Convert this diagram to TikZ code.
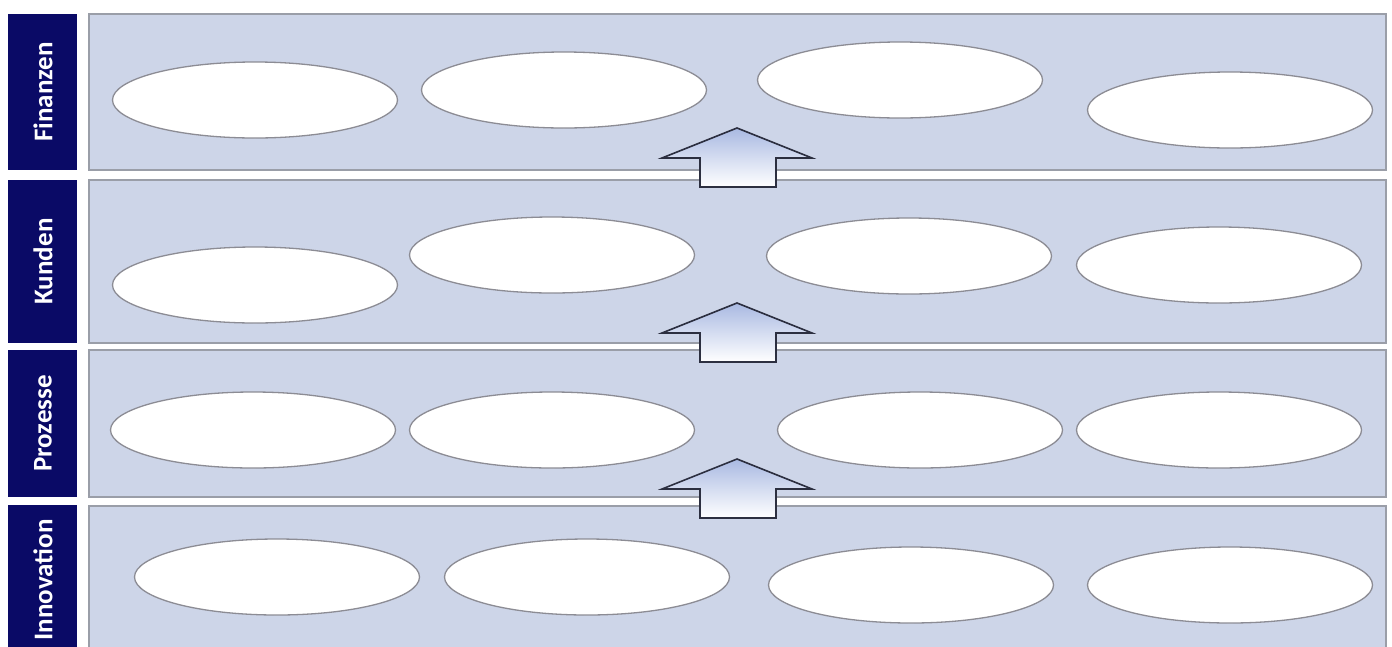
\documentclass[tikz,border=0pt]{standalone}
\usepackage{fontspec}
\setmainfont{Carlito}
\usetikzlibrary{shapes.geometric}
\definecolor{navy}{HTML}{0A0A66}
\definecolor{panelfill}{HTML}{CDD5E8}
\definecolor{panelline}{HTML}{9A9EA8}
\definecolor{ellline}{HTML}{8C8C94}
\definecolor{arrowtop}{HTML}{A9B9E2}
\definecolor{arrowline}{HTML}{2C2F40}
\tikzset{
  lbl/.style={draw=none,fill=navy,text=white,font=\bfseries\fontsize{27}{27}\selectfont,rotate=90,inner sep=0pt},
  panel/.style={draw=panelline,line width=1.2pt,fill=panelfill},
  oval/.style={ellipse,draw=ellline,line width=1.3pt,fill=white,minimum width=285pt,minimum height=76pt,inner sep=0pt},
  uparrow/.style={draw=arrowline,line width=1.6pt,top color=arrowtop,bottom color=white,line join=miter}
}
\begin{document}
\begin{tikzpicture}[x=1pt,y=-1pt]
\useasboundingbox (0,0) rectangle (1392,646);
\fill[white] (0,0) rectangle (1392,646);
\begin{scope}
\clip (0,0) rectangle (1392,646);
% label boxes
\fill[navy] (8,14) rectangle (77,170);
\fill[navy] (8,180) rectangle (77,343);
\fill[navy] (8,350) rectangle (77,497);
\fill[navy] (8,505) rectangle (77,660);
\node[lbl] (lf) at (43,92) {Finanzen};
\node[lbl] (lk) at (43,261.5) {Kunden};
\node[lbl] (lp) at (43,423.5) {Prozesse};
\node[lbl] (li) at (43,580) {Innovation};
% panels
\draw[panel] (89,14) rectangle (1386,170);
\draw[panel] (89,180) rectangle (1386,343);
\draw[panel] (89,350) rectangle (1386,497);
\draw[panel] (89,506) rectangle (1386,670);
% ellipses row 1
\node[oval] (f1) at (255,100) {};
\node[oval] (f2) at (564,90) {};
\node[oval] (f3) at (900,80) {};
\node[oval] (f4) at (1230,110) {};
% row 2
\node[oval] (k1) at (255,285) {};
\node[oval] (k2) at (552,255) {};
\node[oval] (k3) at (909,256) {};
\node[oval] (k4) at (1219,265) {};
% row 3
\node[oval] (p1) at (253,430) {};
\node[oval] (p2) at (552,430) {};
\node[oval] (p3) at (920,430) {};
\node[oval] (p4) at (1219,430) {};
% row 4
\node[oval] (i1) at (277,577) {};
\node[oval] (i2) at (587,577) {};
\node[oval] (i3) at (911,585) {};
\node[oval] (i4) at (1230,585) {};
% arrows
\foreach \t in {128,303,459}{
  \draw[uparrow] (737,\t) -- (812,\t+30) -- (776,\t+30) -- (776,\t+59) -- (700,\t+59) -- (700,\t+30) -- (662,\t+30) -- cycle;
}
\end{scope}
\end{tikzpicture}
\end{document}
